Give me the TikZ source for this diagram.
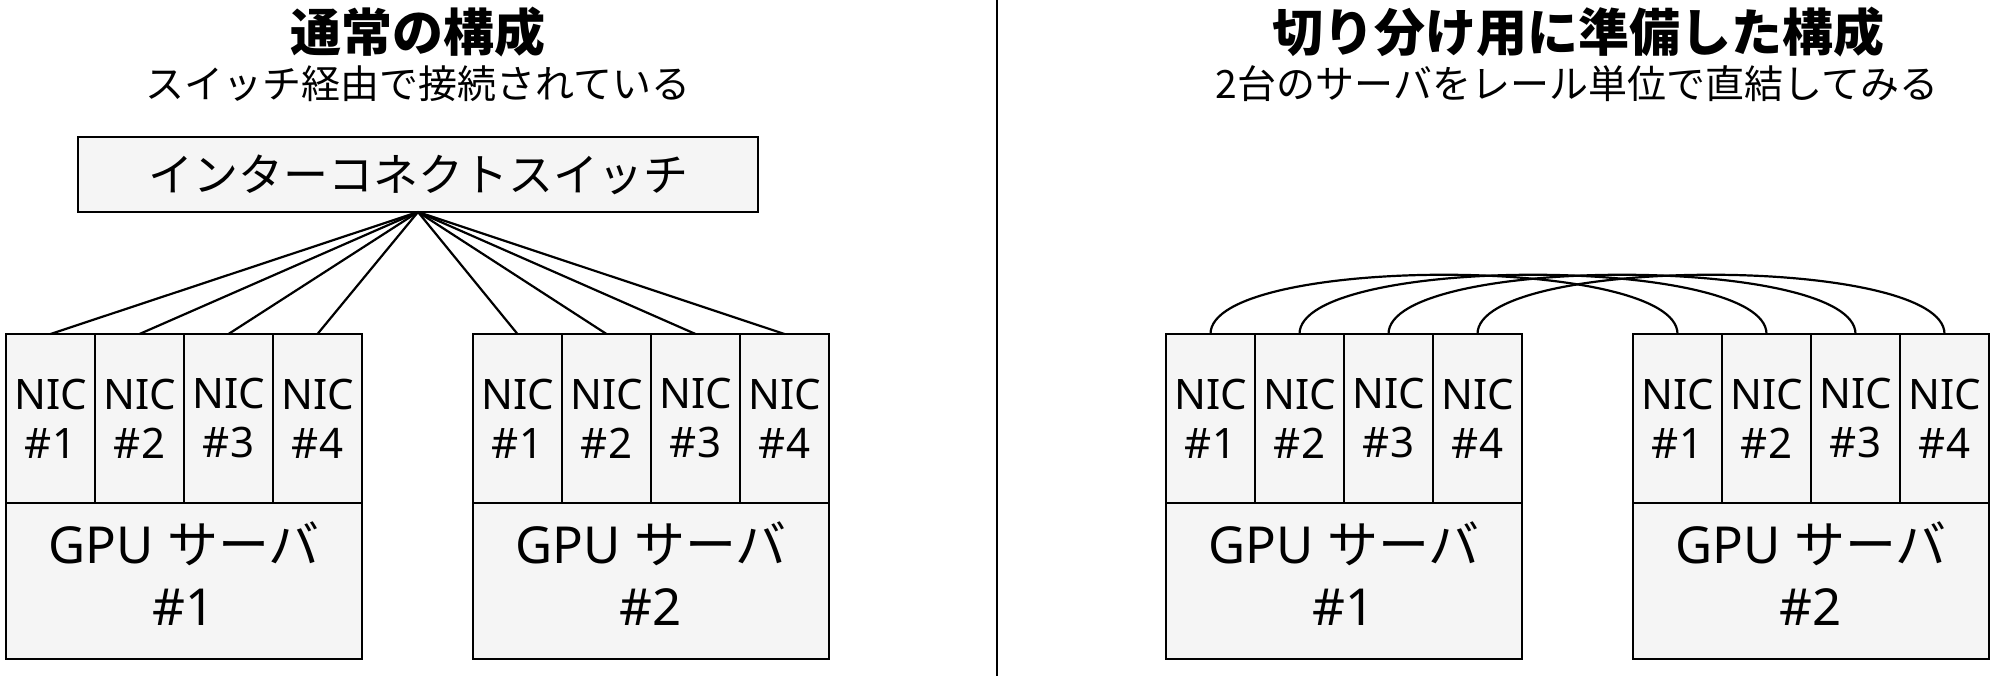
\documentclass[tikz,border=0pt]{standalone}
\usepackage{fontspec}
\setmainfont{Noto Sans}
\newfontfamily\jp{Noto Sans CJK JP}
\definecolor{boxfill}{RGB}{245,245,245}
\tikzset{
  box/.style={draw, line width=2.3pt, fill=boxfill, inner sep=0pt, outer sep=0pt, align=center},
  nic/.style={box, minimum width=89pt, minimum height=169pt, font=\fontsize{42}{49}\selectfont},
  server/.style={box, minimum width=356pt, minimum height=156pt, font=\fontsize{51}{62}\selectfont},
  link/.style={line width=2.2pt},
  heading/.style={font=\jp\bfseries\fontsize{51}{60}\selectfont},
  subheading/.style={font=\jp\fontsize{39}{48}\selectfont}
}

\begin{document}
\begin{tikzpicture}[x=1pt, y=-1pt]
  \useasboundingbox (0,0) rectangle (1999,676);

  % headings
  \node[heading] (titleA) at (418,32) {通常の構成};
  \node[subheading] (subA) at (418,84) {スイッチ経由で接続されている};
  \node[heading] (titleB) at (1578,32) {切り分け用に準備した構成};
  \node[subheading] (subB) at (1577,84) {2台のサーバをレール単位で直結してみる};

  % divider
  \draw[line width=2pt] (997,0) -- (997,676);

  % switch
  \node[box, minimum width=680pt, minimum height=75pt, font=\jp\fontsize{45}{54}\selectfont] (sw) at (418,174.5) {インターコネクトスイッチ};

  % servers with their NICs
  \foreach \s/\sx/\n in {la/6/1, lb/473/2, ra/1166/1, rb/1633/2} {
    \foreach \i in {1,...,4}
      \node[nic] (\s-\i) at ({\sx+44.5+89*(\i-1)},418.5) {NIC\\\#\i};
    \node[server] (\s-srv) at ({\sx+178},581) {GPU {\jp サーバ}\\\#\n\rule[-14pt]{0pt}{0pt}};
  }

  % links through the switch
  \foreach \s in {la,lb}
    \foreach \i in {1,...,4}
      \draw[link] (sw.south) -- (\s-\i.north);

  % direct links, rail by rail
  \foreach \i in {1,...,4}
    \draw[link] (ra-\i.north) .. controls +(0,-79) and +(0,-79) .. (rb-\i.north);
\end{tikzpicture}
\end{document}
